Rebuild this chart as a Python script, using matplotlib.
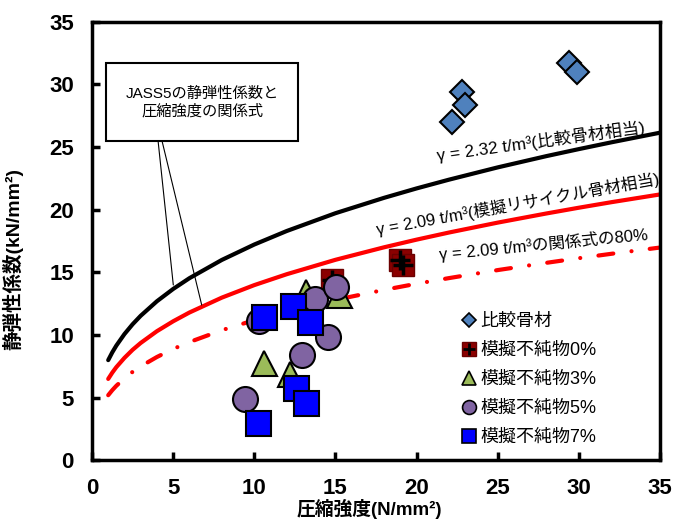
import matplotlib
matplotlib.use("Agg")
import matplotlib.pyplot as plt
from matplotlib.lines import Line2D
from matplotlib.patches import Rectangle

plt.rcParams['font.family'] = ['Liberation Sans', 'Noto Sans CJK JP', 'DejaVu Sans']

# ---- curves (JASS5 relation) ----
fc_curve = [1, 1.25, 1.5, 2, 2.5, 3, 4, 5, 6, 8, 10, 12, 15, 18, 20, 22, 25, 28, 30, 32, 35]
e_232 = [7.99, 8.61, 9.15, 10.07, 10.85, 11.53, 12.69, 13.67, 14.53, 15.99, 17.22,
         18.30, 19.72, 20.95, 21.70, 22.40, 23.38, 24.28, 24.84, 25.38, 26.15]
e_209 = [6.49, 6.99, 7.43, 8.17, 8.81, 9.36, 10.30, 11.09, 11.79, 12.98, 13.98,
         14.85, 16.00, 17.00, 17.61, 18.18, 18.97, 19.70, 20.16, 20.60, 21.22]
e_209_80 = [5.19, 5.59, 5.94, 6.54, 7.05, 7.49, 8.24, 8.88, 9.43, 10.38, 11.18,
            11.88, 12.80, 13.60, 14.09, 14.54, 15.18, 15.76, 16.13, 16.48, 16.98]

# ---- measured points ----
comp_x = [22.8, 23.0, 22.2, 29.4, 29.9]
comp_y = [29.4, 28.4, 27.0, 31.7, 31.0]
imp0_x = [14.8, 18.95, 19.15]
imp0_y = [14.4, 16.0, 15.6]
imp3_x = [13.2, 15.2, 10.6, 12.2]
imp3_y = [13.45, 13.2, 7.8, 6.9]
imp5_x = [10.3, 13.75, 15.05, 14.55, 12.95, 9.45]
imp5_y = [11.15, 12.9, 13.85, 9.85, 8.4, 4.85]
imp7_x = [10.6, 12.4, 13.45, 12.55, 13.2, 10.2]
imp7_y = [11.45, 12.35, 11.05, 5.75, 4.6, 2.95]

labels = ['比較骨材', '模擬不純物0%', '模擬不純物3%', '模擬不純物5%', '模擬不純物7%']

fig = plt.figure(figsize=(6.89, 5.2), dpi=100)
ax = fig.add_axes([0.1335, 0.115, 0.8245, 0.843])

# curves
ax.plot(fc_curve, e_232, color='black', lw=3, solid_capstyle='round', zorder=2)
ax.plot(fc_curve, e_209, color='#ff0000', lw=3, solid_capstyle='round', zorder=2)
ax.plot(fc_curve, e_209_80, color='#ff0000', lw=3, dashes=(3.6, 4.4, 0.01, 4.4),
        dash_capstyle='round', zorder=2)

# points
ax.plot(comp_x, comp_y, 'D', ms=12.5, mfc='#4f81bd', mec='black', mew=1.5, zorder=3)
ax.plot(imp0_x, imp0_y, 's', ms=16, mfc='#8b0000', mec='#6b0000', mew=1, zorder=3)
ax.plot(imp0_x, imp0_y, '+', ms=15, mec='black', mew=2.5, zorder=3)
ax.plot(imp3_x, imp3_y, '^', ms=18, mfc='#9bbb59', mec='black', mew=1.5, zorder=3)
ax.plot(imp5_x, imp5_y, 'o', ms=18, mfc='#8064a2', mec='black', mew=1.5, zorder=3)
ax.plot(imp7_x, imp7_y, 's', ms=18, mfc='#0000ff', mec='black', mew=1.5, zorder=3)

# legend with smaller markers
h_comp = Line2D([], [], ls='none', marker='D', ms=7, mfc='#4f81bd', mec='black', mew=1.2)
h0a = Line2D([], [], ls='none', marker='s', ms=10, mfc='#8b0000', mec='#6b0000', mew=1)
h0b = Line2D([], [], ls='none', marker='+', ms=9, mec='black', mew=2)
h3 = Line2D([], [], ls='none', marker='^', ms=10, mfc='#9bbb59', mec='black', mew=1.2)
h5 = Line2D([], [], ls='none', marker='o', ms=10, mfc='#8064a2', mec='black', mew=1.2)
h7 = Line2D([], [], ls='none', marker='s', ms=10, mfc='#0000ff', mec='black', mew=1.2)
ax.legend([h_comp, (h0a, h0b), h3, h5, h7], labels, loc='upper left',
          bbox_to_anchor=(0.635, 0.356), frameon=False, fontsize=13,
          handlelength=0.8, handletextpad=0.25, labelspacing=0.66, borderpad=0)

# curve labels
ax.text(21.3, 23.9, 'γ = 2.32 t/m³(比較骨材相当)', fontsize=12.3, rotation=7.7,
        rotation_mode='anchor', ha='left', va='baseline')
ax.text(17.6, 18.0, 'γ = 2.09 t/m³(模擬リサイクル骨材相当)', fontsize=12, rotation=10.2,
        rotation_mode='anchor', ha='left', va='baseline')
ax.text(21.45, 16.0, 'γ = 2.09 t/m³の関係式の80%', fontsize=12, rotation=5.5,
        rotation_mode='anchor', ha='left', va='baseline')

# callout box
ax.add_patch(Rectangle((0.84, 25.52), 11.87, 6.19, facecolor='white',
                       edgecolor='black', lw=1.5, zorder=4))
ax.text(6.78, 28.55, 'JASS5の静弾性係数と\n圧縮強度の関係式', fontsize=11,
        ha='center', va='center', linespacing=1.3, zorder=5)
ax.annotate('', xy=(5.01, 13.99), xytext=(4.07, 25.52),
            arrowprops=dict(arrowstyle='-', lw=0.8, color='black', shrinkA=0, shrinkB=0))
ax.annotate('', xy=(6.76, 12.39), xytext=(4.31, 25.52),
            arrowprops=dict(arrowstyle='-', lw=0.8, color='black', shrinkA=0, shrinkB=0))

# axes
ax.set_xlim(0, 35)
ax.set_ylim(0, 35)
ax.set_xticks(range(0, 36, 5))
ax.set_yticks(range(0, 36, 5))
ax.tick_params(direction='in', length=6, width=2.5, labelsize=16, pad=12.5)
ax.tick_params(axis='y', pad=13)
for lbl in ax.get_xticklabels() + ax.get_yticklabels():
    lbl.set_fontweight('bold')
for sp in ax.spines.values():
    sp.set_linewidth(2.5)

ax.set_xlabel('圧縮強度(N/mm²)', fontsize=13.5, fontweight='bold')
ax.set_ylabel('静弾性係数(kN/mm²)', fontsize=14, fontweight='bold')
ax.xaxis.set_label_coords(0.489, -0.088)
ax.yaxis.set_label_coords(-0.12, 0.46)

fig.savefig('out.png', dpi=100)
